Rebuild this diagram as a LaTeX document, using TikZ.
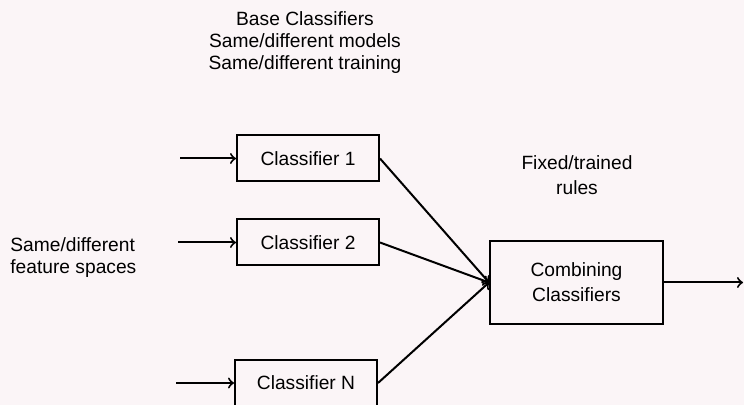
\documentclass[tikz,border=0pt]{standalone}
\usepackage{fontspec}
\setmainfont{Liberation Sans}
\definecolor{paper}{RGB}{251,245,247}
\tikzset{
  clsbox/.style={draw, line width=1pt, minimum width=71pt, minimum height=23pt, inner sep=0pt},
  combbox/.style={draw, line width=1pt, minimum width=86.5pt, minimum height=41.5pt, align=center, inner sep=0pt,
    font=\fontsize{9.6}{12.5}\selectfont},
  label/.style={align=center, inner sep=0pt},
  link/.style={->, line width=1pt}
}
\begin{document}
\begin{tikzpicture}[x=0.5pt,y=-0.5pt,font=\fontsize{9.6}{11}\selectfont]
% page
\fill[paper] (0,0) rectangle (744,405);
\useasboundingbox (0,0) rectangle (744,405);
% labels
\node[label] (base) at (305,43) {Base Classifiers\\Same/different models\\Same/different training};
\node[label, align=left, anchor=west] (feat) at (10,258) {Same/different\\feature spaces};
\node[label, font=\fontsize{9.6}{12.5}\selectfont] (rules) at (577,175) {Fixed/trained\\rules};
% classifiers
\node[clsbox] (c1) at (308,158.5) {Classifier 1};
\node[clsbox] (c2) at (308,242.5) {Classifier 2};
\node[clsbox] (cn) at (306,383) {Classifier N};
\node[combbox] (comb) at (576.5,282.5) {Combining\\Classifiers};
% inputs
\coordinate (in1) at (180,158.5);
\coordinate (in2) at (178,242.5);
\coordinate (inn) at (176,383);
\coordinate (out) at (743,282.5);
\draw[link] (in1) -- (c1);
\draw[link] (in2) -- (c2);
\draw[link] (inn) -- (cn);
% to combiner
\draw[link] (c1.east) -- (comb.west);
\draw[link] (c2.east) -- (comb.west);
\draw[link] (cn.east) -- (comb.west);
\draw[link] (comb) -- (out);
\end{tikzpicture}
\end{document}
